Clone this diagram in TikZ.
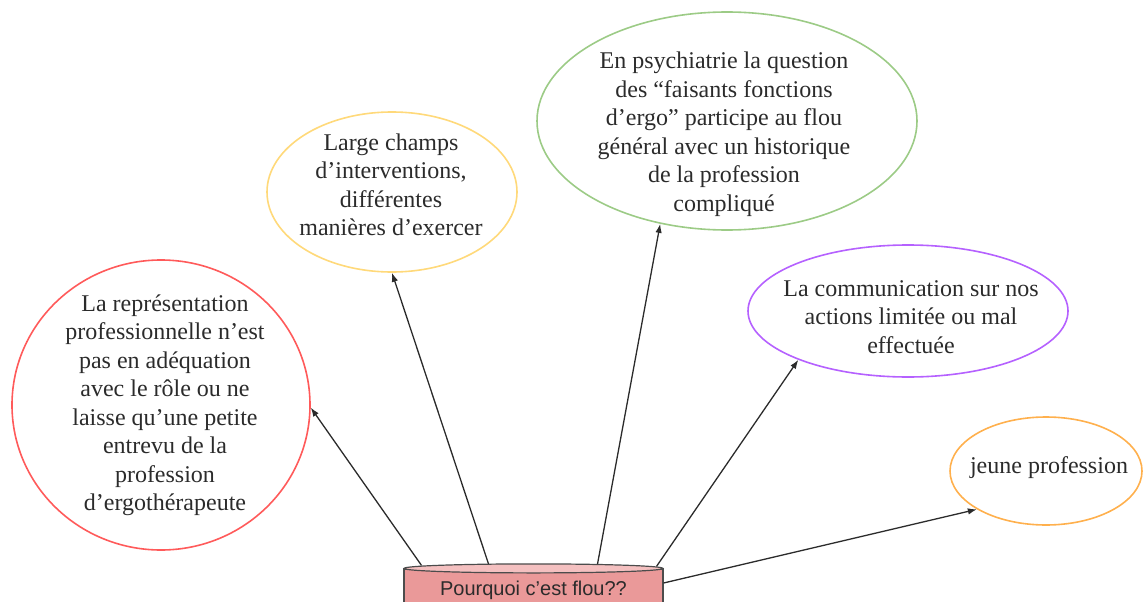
\documentclass[tikz,border=0pt]{standalone}
\usepackage{fontspec}
\setmainfont{Liberation Serif}
\setsansfont{Liberation Sans}
\usetikzlibrary{shapes.geometric,arrows.meta,calc}
\definecolor{cred}{HTML}{FF5A5A}
\definecolor{cyellow}{HTML}{FFD97A}
\definecolor{cgreen}{HTML}{9CCB86}
\definecolor{cpurple}{HTML}{B561FF}
\definecolor{corange}{HTML}{FFB04D}
\definecolor{cylbody}{HTML}{EA9999}
\definecolor{cyltop}{HTML}{F4C0C0}
\definecolor{txtcol}{HTML}{2B2B2B}
\begin{document}
\begin{tikzpicture}[x=1pt,y=-1pt,
  bubble/.style={ellipse, draw, line width=1.6pt, inner sep=0pt},
  txt/.style={align=center, font=\fontsize{24}{28.5}\selectfont, text=txtcol, inner sep=0pt},
  arr/.style={draw=txtcol, line width=1.3pt, -{Latex[length=9pt,width=6.5pt]}},
  cylbox/.style={draw=black!70, line width=1.2pt, fill=cylbody, minimum width=259pt, minimum height=42pt, inner sep=0pt, font=\sffamily\fontsize{20}{24}\selectfont, text=txtcol},
]
\useasboundingbox (0,0) rectangle (1143,602);

% bubbles
\node[bubble, draw=cred, minimum width=298pt, minimum height=290pt] (rep) at (161,405) {};
\node[txt] (repT) at (165,405) {La représentation\\professionnelle n’est\\pas en adéquation\\avec le rôle ou ne\\laisse qu’une petite\\entrevu de la\\profession\\d’ergothérapeute};

\node[bubble, draw=cyellow, minimum width=250pt, minimum height=160pt] (lar) at (392,192) {};
\node[txt] (larT) at (391,185) {Large champs\\d’interventions,\\différentes\\manières d’exercer};

\node[bubble, draw=cgreen, minimum width=380pt, minimum height=218pt] (psy) at (727,121) {};
\node[txt] (psyT) at (724,134) {En psychiatrie la question\\des “faisants fonctions\\d’ergo” participe au flou\\général avec un historique\\de la profession\\compliqué};

\node[bubble, draw=cpurple, minimum width=320pt, minimum height=132pt] (com) at (908,311) {};
\node[txt] (comT) at (911,317) {La communication sur nos\\actions limitée ou mal\\effectuée};

\node[bubble, draw=corange, minimum width=192pt, minimum height=108pt] (jeu) at (1046,471) {};
\node[txt] (jeuT) at (1049,468) {jeune profession};

% cylinder
\node[cylbox] (q) at (533.5,590) {\raisebox{-1pt}{Pourquoi c’est flou??}};
\draw[draw=black!70, line width=1.2pt, fill=cyltop] (q.north) ellipse [x radius=129.5pt, y radius=4.5pt];

\coordinate (s1) at ($(q.north)+(-112,-3)$);
\coordinate (s2) at ($(q.north)+(-45,-4.5)$);
\coordinate (s3) at ($(q.north)+(64,-4.3)$);
\coordinate (s4) at ($(q.north)+(123,-2)$);
\coordinate (s5) at ($(q.east)+(0,-7)$);

% connectors
\draw[arr] (s1) -- (rep.359);
\draw[arr] (s2) -- (lar.south);
\draw[arr] (s3) -- (psy.237);
\draw[arr] (s4) -- (com.204);
\draw[arr] (s5) -- (jeu.209);
\end{tikzpicture}
\end{document}
